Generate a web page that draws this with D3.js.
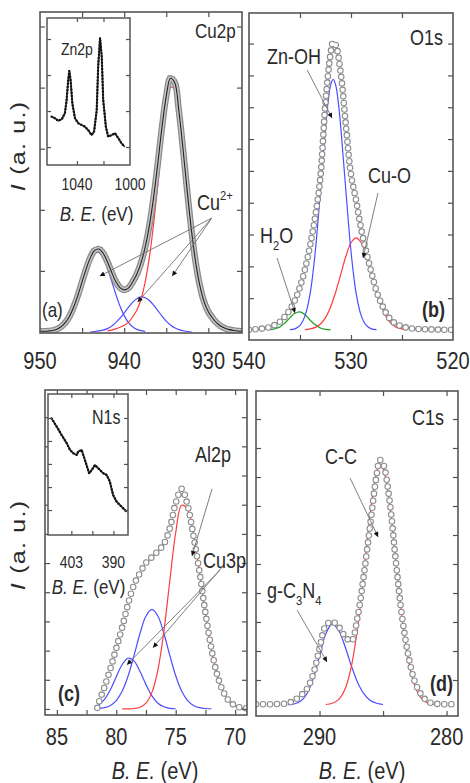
<!DOCTYPE html>
<html>
<head>
<meta charset="utf-8">
<script src="https://cdn.jsdelivr.net/npm/d3@7"></script>
<style>
  html, body { margin: 0; padding: 0; background: #fff; }
  svg { display: block; }
  text { font-family: "Liberation Sans", Arial, sans-serif; fill: #2a2a2a; }
</style>
</head>
<body>
<svg id="chart" width="470" height="783"></svg>
<script>
// ---------- Cu2p (a): [binding energy eV, intensity a.u.] ----------
const cu2pData = [[950,0.3],[949.5,0.3],[949,0.4],[948.5,0.6],[948,1.1],[947.5,2.0],[947,3.6],[946.5,6.0],[946,9.6],[945.5,14.1],[945,19.3],[944.5,24.4],[944,28.7],[943.5,31.4],[943,31.9],[942.5,30.3],[942,27.1],[941.5,23.1],[941,19.4],[940.5,17.1],[940,16.2],[939.5,16.9],[939,19.2],[938.5,22.2],[938,26.6],[937.5,32.7],[937,41.0],[936.5,51.9],[936,65.0],[935.5,78.9],[935,90.7],[934.5,97.6],[934,96.0],[933.5,85.0],[933,70.1],[932.5,53.9],[932,39.0],[931.5,26.7],[931,17.7],[930.5,11.6],[930,7.8],[929.5,5.4],[929,3.5],[928.5,2.2],[928,1.4],[927.5,0.9],[927,0.6],[926.5,0.4],[926,0.3]];
const cu2pMain = [[942,0.4],[941.5,0.7],[941,1.2],[940.5,1.8],[940,2.6],[939.5,3.7],[939,5.8],[938.5,8.4],[938,12.6],[937.5,19.3],[937,28.9],[936.5,41.6],[936,56.8],[935.5,72.8],[935,86.5],[934.5,94.2],[934,93.3],[933.5,84.1],[933,69.6],[932.5,53.7],[932,38.9],[931.5,26.7],[931,17.7],[930.5,11.6],[930,7.8],[929.5,5.4],[929,3.5],[928.5,2.2],[928,1.4],[927.5,0.9],[927,0.6],[926.5,0.4],[926,0.3]];
const cu2pSat1 = [[949,0.2],[948.5,0.4],[948,0.9],[947.5,1.8],[947,3.3],[946.5,5.7],[946,9.2],[945.5,13.6],[945,18.7],[944.5,23.7],[944,27.9],[943.5,30.4],[943,30.6],[942.5,28.6],[942,24.7],[941.5,19.7],[941,14.6],[940.5,10.0],[940,6.3],[939.5,3.7],[939,2.0],[938.5,1.0],[938,0.5],[937.5,0.2]];
const cu2pSat2 = [[944,0.1],[943.5,0.2],[943,0.4],[942.5,0.7],[942,1.3],[941.5,2.2],[941,3.6],[940.5,5.3],[940,7.3],[939.5,9.5],[939,11.4],[938.5,12.8],[938,13.5],[937.5,13.2],[937,12.1],[936.5,10.3],[936,8.2],[935.5,6.1],[935,4.2],[934.5,2.7],[934,1.6],[933.5,0.9],[933,0.5],[932.5,0.2],[932,0.1]];
const cu2pTicksX = [945, 940, 935, 930];
const cu2pLabelsX = [950, 940, 930];
const cu2pTicksY = [23.5, 47, 70.5, 94, 117.5];
const cu2pArrows = [[[929.6,43.8],[942.9,21.5]], [[929.6,43.8],[938.4,11.5]], [[929.6,43.8],[934.3,21.5]]];

// Zn2p inset
const zn2pData = [[1059.1,32.9],[1056.6,31.8],[1054.1,30.1],[1051.5,31.1],[1049.1,35.2],[1047.8,44.2],[1046.6,57.8],[1045.8,64.1],[1044.8,57.8],[1043.5,42.0],[1041.5,31.8],[1039.0,28.4],[1036.5,27.2],[1034.0,26.1],[1031.6,23.8],[1029.0,20.4],[1027.1,22.7],[1025.1,37.4],[1024.0,66.9],[1022.6,86.4],[1021.3,73.7],[1020.2,44.2],[1018.2,26.1],[1016.5,19.3],[1013.8,20.4],[1011.3,21.6],[1008.8,18.2],[1006.4,14.8],[1003.9,12.4]];
const zn2pTicksX = [1040, 1020];
const zn2pLabelsX = [1040, 1000];
const zn2pTicksY = [12.2, 36.7, 61.2, 85.7];

// ---------- O1s (b) ----------
const o1sData = [[540,0.1],[539.5,0.2],[539,0.4],[538.5,0.6],[538,1.0],[537.5,1.7],[537,2.8],[536.5,4.6],[536,7.0],[535.5,10.3],[535,15],[534.5,21.3],[534,29.5],[533.5,39.5],[533,53],[532.5,79],[532,96],[531.75,100],[531.5,99],[531,89],[530.5,71],[530,54],[529.5,45],[529,35],[528.5,27],[528,20],[527.5,13.5],[527,9],[526.5,5.5],[526,3.2],[525.5,2],[525,1.2],[524.5,0.8],[524,0.5],[523,0.3],[522,0.2],[521,0.1],[520,0.1]];
const o1sZnOH = [[536,0.1],[535.5,0.4],[535,1.6],[534.5,5.0],[534,12.8],[533.5,27.3],[533,48.2],[532.5,70.3],[532.25,79.2],[532,85.0],[531.75,87],[531.5,85.0],[531.25,79.2],[531,70.3],[530.5,48.2],[530,27.3],[529.5,12.8],[529,5.0],[528.5,1.6],[528,0.4],[527.5,0.1]];
const o1sCuO = [[534.5,0.1],[534,0.4],[533.5,0.9],[533,2.1],[532.5,4.3],[532,8.0],[531.5,13.2],[531,19.4],[530.5,25.6],[530,30.3],[529.5,32],[529,30.3],[528.5,25.6],[528,19.4],[527.5,13.2],[527,8.0],[526.5,4.3],[526,2.1],[525.5,0.9],[525,0.4],[524.5,0.1]];
const o1sH2O = [[538,0.1],[537.5,0.4],[537,1.0],[536.5,2.4],[536,4.2],[535.5,5.8],[535,6.3],[534.5,5.3],[534,3.4],[533.5,1.8],[533,0.7],[532.5,0.2],[532,0.05]];
const o1sTicksX = [535, 530, 525];
const o1sLabelsX = [540, 530, 520];
const o1sTicksY = [11.05, 22.1, 33.15, 44.2, 55.25, 66.3, 77.35, 88.4, 99.45];
const o1sArrows = [[[534.3,90.3],[531.86,73.6]], [[527.35,47.6],[528.82,25]], [[537.25,25],[535.49,5.9]]];

// ---------- Al2p / Cu3p (c) ----------
const al2pData = [[81.6,0.5],[81.5,2.5],[81,9.8],[80.5,18.1],[80,27.5],[79.5,37],[79,47.6],[78.5,56.2],[78,61.5],[77.5,66],[77,68.6],[76.5,71.3],[76,74.5],[75.5,81.5],[75,93],[74.5,99.5],[74,92],[73.5,78],[73,62],[72.5,43.5],[72,27.3],[71.5,15.3],[71,7.8],[70.5,3.5],[70,1.5],[69.5,0.6],[69,0.3]];
const al2pMain = [[79.5,0],[79,0.05],[78.5,0.2],[78,0.8],[77.5,2.6],[77,7.5],[76.5,17.6],[76,34.9],[75.5,57.7],[75,79.6],[74.5,92.0],[74,90.2],[73.5,79.0],[73,61.8],[72.5,43.3],[72,27.2],[71.5,15.2],[71,7.7],[70.5,3.4],[70,1.4],[69.5,0.5],[69,0.2]];
const cu3pA = [[81.5,0.2],[81,0.6],[80.5,1.6],[80,3.8],[79.5,8.1],[79,15.0],[78.5,24.3],[78,34.2],[77.5,42.0],[77,45],[76.5,42.0],[76,34.2],[75.5,24.3],[75,15.0],[74.5,8.1],[74,3.8],[73.5,1.6],[73,0.6],[72.5,0.2],[72,0.1]];
const cu3pB = [[81.6,0.4],[81.5,1.6],[81,4.3],[80.5,8.7],[80,14.6],[79.5,20.1],[79,22.9],[78.5,21.6],[78,16.9],[77.5,11.0],[77,5.9],[76.5,2.6],[76,1.0],[75.5,0.3],[75,0.1]];
const al2pTicksX = [85, 82.5, 80, 77.5, 75, 72.5, 70];
const al2pLabelsX = [85, 80, 75, 70];
const al2pTicksY = [0, 13.18, 26.36, 39.55, 52.73, 65.91, 79.09, 92.27, 105.45, 118.64, 131.8];
const al2pArrows = [[[71.94,99.5],[73.63,69.1]], [[71.1,64.1],[76.91,27.7]], [[71.27,62.7],[79.1,20]]];

// N1s inset
const n1sData = [[409.1,82.7],[407.5,76.8],[406.0,70.9],[404.4,65.0],[403.4,60.3],[402.4,58.0],[401.3,56.7],[400.9,59.1],[399.8,60.3],[399.3,56.7],[398.3,49.6],[397.5,43.7],[396.7,46.1],[395.7,49.6],[394.7,47.3],[393.1,43.7],[392.1,42.6],[391.1,37.8],[390.1,28.4],[389.0,23.6],[387.5,20.1],[385.9,16.5]];
const n1sTicksX = [403, 396.5, 390];
const n1sLabelsX = [403, 390];
const n1sTicksY = [17.7, 34, 50.4, 66.7, 83];

// ---------- C1s (d) ----------
const c1sData = [[295,0.3],[294.5,0.3],[294,0.3],[293.5,0.4],[293,0.4],[292.5,0.8],[292,1.8],[291.5,3.8],[291,6.5],[290.5,12.5],[290,23],[289.5,32.5],[289,34],[288.5,32],[288,28],[287.5,26],[287,36],[286.5,53.5],[286,74],[285.5,94],[285.25,100],[285,98.5],[284.5,84],[284,59],[283.5,36],[283,20],[282.5,9.5],[282,4.3],[281.5,1.5],[281,0.6],[280.5,0.4],[280,0.3],[279.5,0.3],[279.1,0.3]];
const c1sCC = [[289.5,0.2],[289,0.7],[288.5,2.2],[288,6.4],[287.5,15.6],[287,31.8],[286.5,54.5],[286,78.5],[285.5,95.0],[285.25,98],[285,96.6],[284.5,82.7],[284,59.4],[283.5,35.9],[283,18.2],[282.5,7.8],[282,2.8],[281.5,0.8],[281,0.2]];
const c1sGCN = [[292.5,0.1],[292,0.4],[291.5,1.5],[291,4.5],[290.5,10.7],[290,20],[289.5,29.1],[289,33],[288.5,30.5],[288,24.0],[287.5,16.1],[287,9.2],[286.5,4.5],[286,1.8],[285.5,0.7],[285,0.2]];
const c1sTicksX = [290, 285, 280];
const c1sLabelsX = [290, 280];
const c1sTicksY = [10.2, 22.04, 33.88, 45.71, 57.55, 69.39, 81.22, 93.06, 104.9, 116.73];
const c1sArrows = [[[287.6,92.7],[285.39,68.6]], [[291.77,38.8],[289.41,17.6]]];

// ---------- drawing ----------
const RED = '#ff3b3b', BLUE = '#4d4dff', GREEN = '#1f9e1f';
const SY = 1.22;               // vertical stretch applied to all lettering
const svg = d3.select('#chart');
const defs = svg.append('defs');

defs.append('marker')
  .attr('id', 'head').attr('viewBox', '0 0 10 10')
  .attr('refX', 10).attr('refY', 5)
  .attr('markerWidth', 7).attr('markerHeight', 5)
  .attr('markerUnits', 'userSpaceOnUse')
  .attr('orient', 'auto')
  .append('path').attr('d', 'M0,0 L10,5 L0,10 Z').attr('fill', '#111');

function txt(parent, x, y, parts, o = {}) {
  const size = o.size || 18;
  const t = parent.append('text')
    .attr('transform', `translate(${x},${y}) scale(1,${SY})`)
    .attr('font-size', size)
    .attr('text-anchor', o.anchor || 'start');
  if (o.bold) t.attr('font-weight', 'bold');
  let shift = 0;
  (typeof parts === 'string' ? [[parts]] : parts).forEach(([s, k]) => {
    const ts = t.append('tspan').text(s);
    let target = 0;
    if (k === 'i') ts.attr('font-style', 'italic');
    if (k === 'sub') { ts.attr('font-size', size * 0.62); target = size * 0.3; }
    if (k === 'sup') { ts.attr('font-size', size * 0.62); target = -size * 0.45; }
    if (target !== shift) { ts.attr('dy', target - shift); shift = target; }
  });
  return t;
}

function ticks(g, x, y, box, xt, yt, len) {
  const style = sel => {
    sel.select('.domain').remove();
    sel.selectAll('line').attr('stroke', '#505050').attr('stroke-width', 1.2);
  };
  g.append('g').attr('transform', `translate(0,${box.bottom})`)
    .call(d3.axisBottom(x).tickValues(xt).tickSize(-len).tickFormat('')).call(style);
  g.append('g').attr('transform', `translate(0,${box.top})`)
    .call(d3.axisTop(x).tickValues(xt).tickSize(-len).tickFormat('')).call(style);
  g.append('g').attr('transform', `translate(${box.left},0)`)
    .call(d3.axisLeft(y).tickValues(yt).tickSize(-len).tickFormat('')).call(style);
  g.append('g').attr('transform', `translate(${box.right},0)`)
    .call(d3.axisRight(y).tickValues(yt).tickSize(-len).tickFormat('')).call(style);
}

function panel(p) {
  const g = svg.append('g');
  const x = d3.scaleLinear().domain(p.xDom).range([p.left, p.right]);
  const y = d3.scaleLinear().domain(p.yDom).range([p.bottom, p.top]);
  defs.append('clipPath').attr('id', 'clip-' + p.id)
    .append('rect').attr('x', p.left).attr('y', p.top)
    .attr('width', p.right - p.left).attr('height', p.bottom - p.top);
  const plot = g.append('g').attr('clip-path', `url(#clip-${p.id})`);
  const line = d3.line().x(d => x(d[0])).y(d => y(d[1])).curve(d3.curveCatmullRom.alpha(0.5));

  p.fits.forEach(f => plot.append('path').attr('d', line(f.values))
    .attr('fill', 'none').attr('stroke', f.color).attr('stroke-width', 1.2));

  // measured spectrum: open circles strung along the curve
  const dpath = line(p.data);
  plot.append('path').attr('d', dpath).attr('fill', 'none')
    .attr('stroke', p.ring || '#8d8d8d').attr('stroke-width', 6.6)
    .attr('stroke-linecap', 'round').attr('stroke-dasharray', `0,${p.spacing}`);
  plot.append('path').attr('d', dpath).attr('fill', 'none')
    .attr('stroke', '#fff').attr('stroke-width', 4.4).attr('opacity', p.hollow ?? 1)
    .attr('stroke-linecap', 'round').attr('stroke-dasharray', `0,${p.spacing}`);
  if (p.envelope) {
    plot.append('path').attr('d', dpath).attr('fill', 'none')
      .attr('stroke', '#222').attr('stroke-width', 1.1);
  }

  ticks(g, x, y, p, p.xTicks, p.yTicks, 5);

  p.labelsX.forEach(v => txt(g, x(v), p.labelY, String(v), { size: 20, anchor: 'middle' }));

  p.arrows.forEach(([a, b]) => g.append('line')
    .attr('x1', x(a[0])).attr('y1', y(a[1])).attr('x2', x(b[0])).attr('y2', y(b[1]))
    .attr('stroke', '#707070').attr('stroke-width', 0.9).attr('marker-end', 'url(#head)'));

  return { g, x, y, frame: () => g.append('rect')
    .attr('x', p.left).attr('y', p.top).attr('width', p.right - p.left).attr('height', p.bottom - p.top)
    .attr('fill', 'none').attr('stroke', '#555').attr('stroke-width', 1.6) };
}

function inset(parent, p) {
  const g = parent.append('g');
  g.append('rect').attr('x', p.left).attr('y', p.top)
    .attr('width', p.right - p.left).attr('height', p.bottom - p.top).attr('fill', '#fff');
  const x = d3.scaleLinear().domain(p.xDom).range([p.left, p.right]);
  const y = d3.scaleLinear().domain([0, 100]).range([p.bottom, p.top]);
  const line = d3.line().x(d => x(d[0])).y(d => y(d[1]));
  g.append('path').attr('d', line(p.data)).attr('fill', 'none')
    .attr('stroke', '#3a3a3a').attr('stroke-width', 1.8).attr('stroke-linejoin', 'round');
  g.append('path').attr('d', line(p.data)).attr('fill', 'none')
    .attr('stroke', '#111').attr('stroke-width', 2.4).attr('stroke-linecap', 'round')
    .attr('stroke-dasharray', '0,3.2');
  ticks(g, x, y, p, p.xTicks, p.yTicks, 4);
  g.append('rect').attr('x', p.left).attr('y', p.top)
    .attr('width', p.right - p.left).attr('height', p.bottom - p.top)
    .attr('fill', 'none').attr('stroke', '#555').attr('stroke-width', 1.5);
  p.labelsX.forEach(v => txt(g, x(v), p.labelY, String(v), { size: 14, anchor: 'middle' }));
  return g;
}

function yTitle(cy) {
  svg.append('text')
    .attr('transform', `translate(25,${cy}) rotate(-90) scale(1.25,1)`)
    .attr('text-anchor', 'middle').attr('font-size', 20).attr('letter-spacing', 1)
    .call(t => { t.append('tspan').attr('font-style', 'italic').text('I'); t.append('tspan').text(' (a. u.)'); });
}
const beParts = [['B. E.', 'i'], [' (eV)']];

// (a) Cu2p
const pa = panel({
  id: 'a', left: 40, right: 242, top: 12, bottom: 333,
  xDom: [950, 926], yDom: [-0.385, 123.08],
  data: cu2pData, spacing: 2.5, envelope: true, ring: '#8a8a8a', hollow: 0.5,
  fits: [{ values: cu2pSat1, color: BLUE }, { values: cu2pSat2, color: BLUE }, { values: cu2pMain, color: RED }],
  xTicks: cu2pTicksX, yTicks: cu2pTicksY, labelsX: cu2pLabelsX, labelY: 369, arrows: cu2pArrows
});
inset(pa.g, {
  left: 47, right: 130, top: 18, bottom: 165, xDom: [1062.6, 1000],
  data: zn2pData, xTicks: zn2pTicksX, yTicks: zn2pTicksY, labelsX: zn2pLabelsX, labelY: 190
});
txt(pa.g, 61, 55, 'Zn2p', { size: 14 });
txt(pa.g, 96.5, 221, beParts, { size: 17, anchor: 'middle' });
txt(pa.g, 195, 38, 'Cu2p', { size: 17 });
txt(pa.g, 197, 210, [['Cu'], ['2+', 'sup']], { size: 18 });
txt(pa.g, 42, 317, '(a)', { size: 17 });
pa.frame();

// (b) O1s
const pb = panel({
  id: 'b', left: 249, right: 453, top: 13, bottom: 340,
  xDom: [540, 520], yDom: [-3.47, 110.07],
  data: o1sData, spacing: 6.5,
  fits: [{ values: o1sH2O, color: GREEN }, { values: o1sCuO, color: RED }, { values: o1sZnOH, color: BLUE }],
  xTicks: o1sTicksX, yTicks: o1sTicksY, labelsX: o1sLabelsX, labelY: 369, arrows: o1sArrows
});
txt(pb.g, 410, 45, 'O1s', { size: 18 });
txt(pb.g, 267, 64, 'Zn-OH', { size: 18 });
txt(pb.g, 368, 183, 'Cu-O', { size: 18 });
txt(pb.g, 260, 243, [['H'], ['2', 'sub'], ['O']], { size: 18 });
txt(pb.g, 422, 317, '(b)', { size: 18, bold: true });
pb.frame();

// (c) Al2p + Cu3p
const pc = panel({
  id: 'c', left: 45, right: 247, top: 390, bottom: 715,
  xDom: [86, 69], yDom: [-2.727, 144.09],
  data: al2pData, spacing: 7,
  fits: [{ values: cu3pB, color: BLUE }, { values: cu3pA, color: BLUE }, { values: al2pMain, color: RED }],
  xTicks: al2pTicksX, yTicks: al2pTicksY, labelsX: al2pLabelsX, labelY: 745, arrows: al2pArrows
});
inset(pc.g, {
  left: 48, right: 128, top: 394, bottom: 535, xDom: [410.2, 385.5],
  data: n1sData, xTicks: n1sTicksX, yTicks: n1sTicksY, labelsX: n1sLabelsX, labelY: 568
});
txt(pc.g, 92, 424, 'N1s', { size: 16 });
txt(pc.g, 88.5, 594, beParts, { size: 17, anchor: 'middle' });
txt(pc.g, 195, 462, 'Al2p', { size: 18 });
txt(pc.g, 203, 568, 'Cu3p', { size: 18 });
txt(pc.g, 58, 701, '(c)', { size: 18, bold: true });
pc.frame();

// (d) C1s
const pd = panel({
  id: 'd', left: 256, right: 458, top: 391, bottom: 716,
  xDom: [295, 279.1], yDom: [-4.49, 128.16],
  data: c1sData, spacing: 7,
  fits: [{ values: c1sGCN, color: BLUE }, { values: c1sCC, color: RED }],
  xTicks: c1sTicksX, yTicks: c1sTicksY, labelsX: c1sLabelsX, labelY: 745, arrows: c1sArrows
});
txt(pd.g, 412, 425, 'C1s', { size: 18 });
txt(pd.g, 325, 464, 'C-C', { size: 18 });
txt(pd.g, 267, 598, [['g-C'], ['3', 'sub'], ['N'], ['4', 'sub']], { size: 18 });
txt(pd.g, 430, 691, '(d)', { size: 18, bold: true });
pd.frame();

yTitle(146);
yTitle(545);
txt(svg, 155, 779, beParts, { size: 20, anchor: 'middle' });
txt(svg, 362, 779, beParts, { size: 20, anchor: 'middle' });
</script>
</body>
</html>
